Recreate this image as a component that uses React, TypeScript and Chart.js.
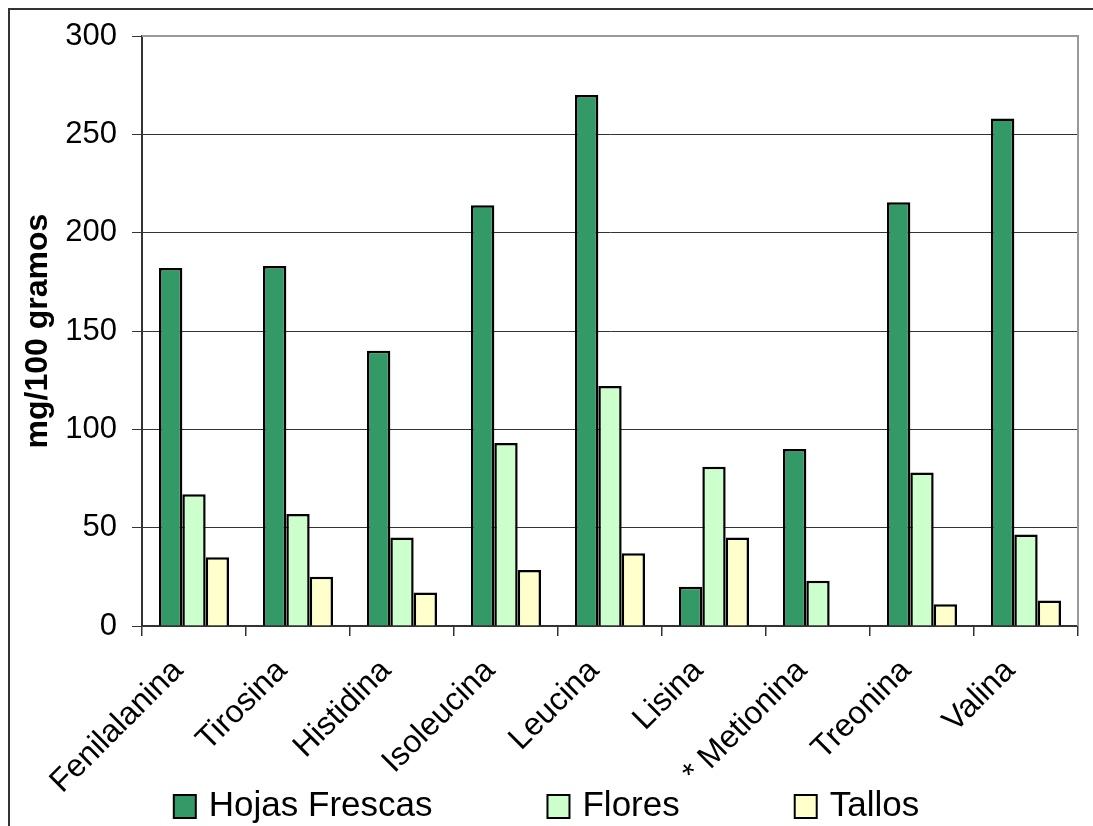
import React, { useEffect, useRef } from 'react';
import { Chart, registerables } from 'chart.js';

Chart.register(...registerables);

const categories = ['Fenilalanina', 'Tirosina', 'Histidina', 'Isoleucina', 'Leucina', 'Lisina', '* Metionina', 'Treonina', 'Valina'];
const hojasFrescas = [182, 183, 140, 214, 270, 20, 90, 215.5, 258];
const flores = [67, 57, 45, 93, 122, 81, 23, 78, 46.5];
const tallos = [35, 25, 17, 28.5, 37, 45, 0, 11, 13];
const seriesNames = ['Hojas Frescas', 'Flores', 'Tallos'];
const seriesColors = ['#339966', '#CCFFCC', '#FFFFCC'];
const yTickValues = [0, 50, 100, 150, 200, 250, 300];
const yTitle = 'mg/100 gramos';

const FONT = "'Liberation Sans', Arial, sans-serif";
const W = 1093;
const H = 826;

const framePlugin = {
  id: 'frame',
  beforeDraw(chart: any) {
    const ctx = chart.ctx;
    ctx.save();
    ctx.fillStyle = '#ffffff';
    ctx.fillRect(0, 0, chart.width, chart.height);
    ctx.strokeStyle = '#333333';
    ctx.lineWidth = 2;
    ctx.beginPath();
    ctx.moveTo(9, chart.height);
    ctx.lineTo(9, 9);
    ctx.lineTo(chart.width, 9);
    ctx.stroke();
    ctx.restore();
  },
  afterDraw(chart: any) {
    const ctx = chart.ctx;
    const a = chart.chartArea;
    ctx.save();
    ctx.strokeStyle = '#999999';
    ctx.lineWidth = 2;
    ctx.beginPath();
    ctx.moveTo(a.left, a.top);
    ctx.lineTo(a.right, a.top);
    ctx.lineTo(a.right, a.bottom);
    ctx.stroke();
    ctx.restore();

    // legend
    ctx.save();
    ctx.font = `35px ${FONT}`;
    ctx.textBaseline = 'alphabetic';
    ctx.textAlign = 'left';
    const box = 22;
    const boxGap = 13;
    const itemGap = 115;
    const items = chart.data.datasets.map((ds: any) => ({
      label: ds.label,
      color: ds.backgroundColor,
      w: ctx.measureText(ds.label).width,
    }));
    const total = items.reduce((s: number, it: any) => s + box + boxGap + it.w, 0) + itemGap * (items.length - 1);
    let x = (chart.width - total) / 2;
    const cy = 806;
    items.forEach((it: any) => {
      ctx.fillStyle = it.color;
      ctx.fillRect(x, cy - box / 2, box, box + 1);
      ctx.strokeStyle = '#000000';
      ctx.lineWidth = 2;
      ctx.strokeRect(x, cy - box / 2, box, box + 1);
      ctx.fillStyle = '#000000';
      ctx.fillText(it.label, x + box + boxGap, 816);
      x += box + boxGap + it.w + itemGap;
    });
    ctx.restore();
  },
};

export default function App() {
  const ref = useRef<HTMLCanvasElement | null>(null);

  useEffect(() => {
    if (!ref.current) return;
    const seriesData = [hojasFrescas, flores, tallos];
    const chart = new Chart(ref.current, {
      type: 'bar',
      data: {
        labels: categories,
        datasets: seriesNames.map((name, i) => ({
          label: name,
          data: seriesData[i],
          backgroundColor: seriesColors[i],
          borderColor: '#000000',
          borderWidth: 2.5,
          borderSkipped: 'bottom',
          categoryPercentage: 0.673,
          barPercentage: 1,
        })),
      },
      options: {
        responsive: false,
        animation: false,
        layout: { padding: { left: 0, right: 15, top: 36, bottom: 0 } },
        plugins: {
          legend: { display: false },
          tooltip: { enabled: false },
        },
        scales: {
          x: {
            offset: true,
            grid: {
              offset: true,
              drawOnChartArea: false,
              drawTicks: true,
              tickLength: 10,
              tickColor: '#333333',
              lineWidth: 1.5,
            },
            border: { display: true, color: '#333333', width: 2 },
            ticks: {
              autoSkip: false,
              maxRotation: 45,
              minRotation: 45,
              padding: 16,
              labelOffset: -16,
              color: '#000000',
              font: { family: FONT, size: 32 },
            },
            afterFit(scale: any) {
              scale.height = 200;
            },
          },
          y: {
            min: 0,
            max: 300,
            afterBuildTicks(scale: any) {
              scale.ticks = yTickValues.map((v) => ({ value: v }));
            },
            grid: {
              color: (c: any) => (c.tick && c.tick.value === 300 ? '#999999' : '#333333'),
              lineWidth: 1,
              tickLength: 10,
              tickColor: '#333333',
            },
            border: { display: true, color: '#333333', width: 2 },
            ticks: {
              padding: 15,
              color: '#000000',
              font: { family: FONT, size: 31 },
            },
            title: {
              display: true,
              text: yTitle,
              color: '#000000',
              font: { family: FONT, size: 32, weight: 'bold' },
              padding: { top: 19, bottom: 0 },
            },
            afterFit(scale: any) {
              scale.width = 142;
            },
          },
        },
      },
      plugins: [framePlugin],
    });
    return () => chart.destroy();
  }, []);

  return (
    <div style={{ position: 'absolute', left: 0, top: 0, width: W, height: H }}>
      <canvas ref={ref} width={W} height={H} style={{ display: 'block' }} />
    </div>
  );
}
